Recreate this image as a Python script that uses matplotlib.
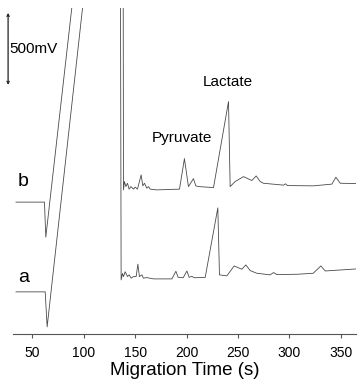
import matplotlib

matplotlib.use("Agg")
import matplotlib.pyplot as plt

plt.rcParams["font.family"] = ["Liberation Sans", "DejaVu Sans"]

# Electropherogram traces: migration time (s) and detector signal (mV, offset for stacking)
time_a = [34, 62.4, 64.3, 104, 135.6, 136.3, 137.6, 138.6, 140.2, 142.5, 144.1, 146.1,
          148.3, 150.9, 152.6, 154.1, 156.5, 158.0, 161.3, 167.8, 185.7, 189.6, 191.8,
          196.7, 200.3, 202.5, 205.1, 207.4, 218.1, 230.4, 232.0, 239.2, 246.3, 253.8,
          257.7, 261.9, 268.4, 281.3, 284.6, 287.9, 307.3, 323.2, 330.7, 334.9, 365]
signal_a = [292, 292, 49, 2600, 2600, 375, 420, 398, 432, 398, 410, 387,
            398, 398, 484, 398, 410, 387, 391, 382, 382, 435, 393,
            390, 437, 393, 400, 390, 392, 875, 410, 403, 472, 449,
            479, 440, 421, 410, 426, 412, 414, 421, 472, 437, 451]

time_b = [34, 61.7, 63.0, 100, 138.2, 138.6, 139.5, 140.9, 142.5, 144.1, 145.8, 148.3,
          150.0, 152.2, 155.8, 157.4, 159.0, 161.3, 162.9, 164.6, 171.1, 193.1, 197.9,
          201.8, 206.7, 209.0, 211.6, 226.2, 240.8, 242.4, 247.3, 255.4, 263.5, 267.7,
          271.6, 274.8, 294.3, 296.2, 298.2, 323.5, 341.4, 345.3, 349.5, 365]
signal_b = [915, 915, 672, 3000, 3000, 1000, 1058, 1023, 1046, 1005, 1023, 1005,
            1019, 1005, 1104, 1028, 1046, 1012, 1023, 1005, 1000, 1005, 1217,
            1023, 1078, 1028, 1023, 1016, 1613, 1023, 1058, 1092, 1065, 1097,
            1058, 1046, 1033, 1042, 1030, 1028, 1040, 1088, 1046, 1044]

trace_labels = ["a", "b"]
peak_names = ["Pyruvate", "Lactate"]
peak_times = [195.4, 240.0]
peak_label_mv = [1361, 1750]
scale_mv = 500

fig = plt.figure(figsize=(3.59, 3.91), dpi=100)
ax = fig.add_axes([0.036, 0.146, 0.956, 0.834])

ax.plot(time_a, signal_a, color="#4a4a4a", lw=0.6)
ax.plot(time_b, signal_b, color="#4a4a4a", lw=0.6)

ax.set_xlim(31, 365)
ax.set_ylim(0, 2264)
ax.set_xticks([50, 100, 150, 200, 250, 300, 350])
ax.set_yticks([])
for side in ("left", "right", "top"):
    ax.spines[side].set_visible(False)
ax.spines["bottom"].set_color("#555555")
ax.spines["bottom"].set_linewidth(0.8)
ax.tick_params(axis="x", length=3, width=0.8, color="#555555", labelsize=10, pad=6)
ax.set_xlabel("Migration Time (s)", fontsize=13.5, labelpad=1.5)

# trace labels
ax.text(41, 389, trace_labels[0], fontsize=14, ha="center", va="center")
ax.text(41, 1055, trace_labels[1], fontsize=14, ha="center", va="center")

# peak labels
for name, t, mv in zip(peak_names, peak_times, peak_label_mv):
    ax.text(t, mv, name, fontsize=11, ha="center", va="center")

# 500 mV scale bar
bar_top = 2229
ax.annotate("", xy=(26.3, bar_top), xytext=(26.3, bar_top - scale_mv),
            arrowprops=dict(arrowstyle="<->", lw=0.9, color="#222222",
                            mutation_scale=4, shrinkA=0, shrinkB=0),
            annotation_clip=False)
ax.text(27.8, bar_top - 248, f"{scale_mv}mV", fontsize=11, ha="left", va="center")

fig.savefig("out.png", dpi=100)
